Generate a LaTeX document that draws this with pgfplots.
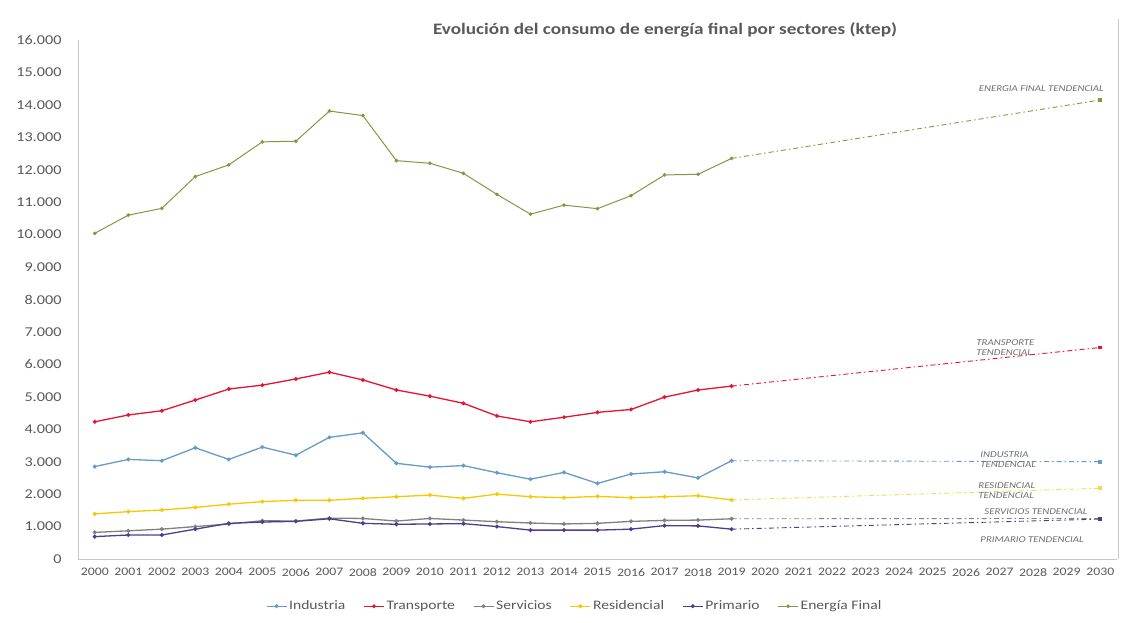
\documentclass[border=0pt]{standalone}
\usepackage{pgfplots}
\pgfplotsset{compat=1.18}
\usepackage{pgfplotstable}
\usepackage{fontspec}
\setmainfont{Carlito}[FakeStretch=1.2]
\definecolor{txt}{RGB}{89,89,89}
\definecolor{ann}{RGB}{110,110,110}
\definecolor{cInd}{RGB}{100,155,200}
\definecolor{cTra}{RGB}{230,20,50}
\definecolor{cSer}{RGB}{128,128,128}
\definecolor{cRes}{RGB}{245,200,0}
\definecolor{cPri}{RGB}{80,60,140}
\definecolor{cTot}{RGB}{125,155,65}
\definecolor{axc}{RGB}{200,200,200}

\pgfplotstableread{
year ind tra ser res pri tot
2000 2850 4230 820 1390 690 10040
2001 3070 4440 870 1460 740 10600
2002 3030 4570 920 1510 740 10810
2003 3430 4900 1000 1590 920 11790
2004 3070 5240 1080 1690 1100 12150
2005 3450 5360 1180 1770 1140 12860
2006 3200 5550 1170 1810 1160 12880
2007 3750 5760 1260 1810 1240 13810
2008 3890 5520 1250 1870 1100 13670
2009 2950 5210 1170 1920 1070 12280
2010 2830 5020 1250 1970 1080 12200
2011 2880 4800 1200 1870 1090 11890
2012 2660 4410 1150 2000 1000 11240
2013 2460 4230 1110 1920 890 10630
2014 2670 4370 1080 1890 890 10910
2015 2330 4520 1100 1930 890 10800
2016 2620 4610 1160 1890 920 11200
2017 2690 4990 1190 1920 1030 11840
2018 2500 5210 1200 1950 1020 11860
2019 3030 5330 1240 1820 920 12350
}\hist

\pgfplotstableread{
year ind tra ser res pri tot
2019 3030 5330 1240 1820 920 12350
2030 3000 6520 1250 2180 1230 14150
}\trend

\begin{document}
\begin{tikzpicture}[x=1pt,y=1pt]
\begin{axis}[
  scale only axis,
  width=1039pt, height=519pt,
  xmin=1999.5, xmax=2030.5,
  ymin=0, ymax=16000,
  clip=false,
  axis x line*=bottom, axis y line*=left,
  axis line style={draw=axc, line width=0.8pt},
  xtick={2000,2001,...,2030},
  ytick={0,1000,...,16000},
  major tick length=0pt,
  scaled y ticks=false,
  tick label style={text=txt},
  x tick label style={font=\fontsize{11.5}{12}\selectfont, /pgf/number format/1000 sep={}, yshift=-6pt},
  y tick label style={font=\fontsize{13.5}{14}\selectfont, /pgf/number format/1000 sep={.}, xshift=-13pt},
  /pgf/number format/assume math mode=true,
  legend style={draw=none, at={(0.478,-0.091)}, anchor=center,
    font=\fontsize{13}{14}\selectfont, text=txt,
    /tikz/every even column/.append style={column sep=16pt}},
  legend columns=-1,
  legend image code/.code={
    \draw[#1, mark size=1.3pt] (0pt,0pt) -- (20pt,0pt);
    \draw[#1, mark size=1.3pt, mark repeat=1] plot coordinates {(10pt,0pt)};
  },
  every axis plot/.append style={line width=1.3pt, mark=*, mark size=1.3pt},
]
\addplot[color=cInd] table[x=year,y=ind]{\hist};
\addlegendentry{Industria}
\addplot[color=cTra] table[x=year,y=tra]{\hist};
\addlegendentry{Transporte}
\addplot[color=cSer] table[x=year,y=ser]{\hist};
\addlegendentry{Servicios}
\addplot[color=cRes] table[x=year,y=res]{\hist};
\addlegendentry{Residencial}
\addplot[color=cPri] table[x=year,y=pri]{\hist};
\addlegendentry{Primario}
\addplot[color=cTot, line width=1pt] table[x=year,y=tot]{\hist};
\addlegendentry{Energía Final}

\pgfplotsset{trendstyle/.style={forget plot, line width=0.9pt,
  dash pattern=on 5pt off 3pt on 1.5pt off 3pt, mark=square*, mark size=1.4pt,
  mark indices={2}, mark options={solid}}}
\addplot[color=cInd, trendstyle] table[x=year,y=ind]{\trend};
\addplot[color=cTra, trendstyle] table[x=year,y=tra]{\trend};
\addplot[color=cSer, trendstyle] table[x=year,y=ser]{\trend};
\addplot[color=cRes!70, trendstyle] table[x=year,y=res]{\trend};
\addplot[color=cPri, trendstyle] table[x=year,y=pri]{\trend};
\addplot[color=cTot!80!brown, trendstyle] table[x=year,y=tot]{\trend};

\begin{scope}[every node/.style={font=\fontsize{9}{10.5}\selectfont\itshape, text=ann, inner sep=0pt}]
\node[anchor=center] at (axis cs:2028.24,14488) {ENERGIA FINAL TENDENCIAL};
\node[anchor=west, align=left] at (axis cs:2026.3,6520) {TRANSPORTE\\TENDENCIAL};
\node[anchor=west, align=left] at (axis cs:2026.42,3067) {INDUSTRIA\\TENDENCIAL};
\node[anchor=west, align=left] at (axis cs:2026.36,2112) {RESIDENCIAL\\TENDENCIAL};
\node[anchor=west] at (axis cs:2026.54,1449) {SERVICIOS TENDENCIAL};
\node[anchor=west] at (axis cs:2026.42,586) {PRIMARIO TENDENCIAL};
\end{scope}

\node[font=\fontsize{16}{18}\selectfont\bfseries, text=txt] at (rel axis cs:0.565,1.019) {Evolución del consumo de energía final por sectores (ktep)};
\end{axis}
\draw[axc, line width=0.8pt] ([xshift=1pt]current axis.south east) -- ++(0pt,540pt);
\path[use as bounding box] ([shift={(-78pt,-64pt)}]current axis.south west) rectangle ++(1126pt,623pt);
\end{tikzpicture}
\end{document}
